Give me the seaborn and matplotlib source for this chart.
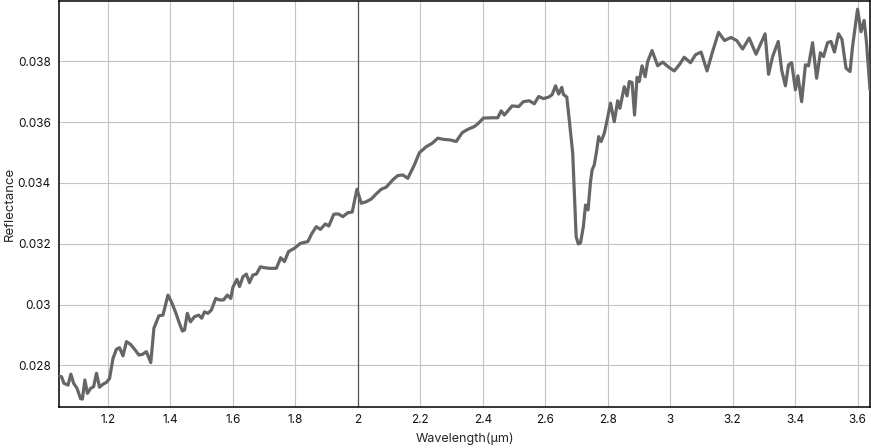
import numpy as np
import pandas as pd
import seaborn as sns
import matplotlib
matplotlib.use("Agg")
import matplotlib.pyplot as plt
from matplotlib.ticker import MultipleLocator, FuncFormatter

# spectrum
wavelength = [
    1.043, 1.051, 1.059, 1.072, 1.081, 1.090, 1.101, 1.112, 1.118, 1.126,
    1.134, 1.144, 1.154, 1.163, 1.173, 1.184, 1.195, 1.205, 1.216, 1.227,
    1.237, 1.248, 1.259, 1.272, 1.285, 1.299, 1.310, 1.323, 1.337, 1.347,
    1.363, 1.376, 1.392, 1.403, 1.417, 1.427, 1.438, 1.445, 1.454, 1.464,
    1.477, 1.491, 1.500, 1.509, 1.520, 1.531, 1.545, 1.557, 1.570, 1.582,
    1.593, 1.600, 1.613, 1.621, 1.632, 1.643, 1.653, 1.664, 1.675, 1.688,
    1.701, 1.717, 1.739, 1.753, 1.765, 1.778, 1.797, 1.816, 1.840, 1.853,
    1.867, 1.880, 1.896, 1.907, 1.923, 1.937, 1.952, 1.968, 1.982, 1.997,
    2.011, 2.027, 2.043, 2.059, 2.075, 2.091, 2.112, 2.128, 2.144, 2.160,
    2.181, 2.197, 2.219, 2.238, 2.256, 2.274, 2.296, 2.315, 2.334, 2.352,
    2.373, 2.386, 2.402, 2.427, 2.448, 2.459, 2.469, 2.494, 2.515, 2.530,
    2.549, 2.565, 2.579, 2.594, 2.611, 2.622, 2.633, 2.643, 2.653, 2.658,
    2.669, 2.677, 2.688, 2.699, 2.706, 2.713, 2.722, 2.729, 2.737, 2.745,
    2.750, 2.757, 2.765, 2.771, 2.779, 2.789, 2.798, 2.809, 2.821, 2.832,
    2.839, 2.853, 2.862, 2.869, 2.878, 2.886, 2.894, 2.901, 2.910, 2.920,
    2.928, 2.942, 2.960, 2.976, 2.997, 3.013, 3.029, 3.045, 3.065, 3.081,
    3.099, 3.118, 3.136, 3.155, 3.174, 3.195, 3.213, 3.232, 3.253, 3.275,
    3.304, 3.315, 3.328, 3.346, 3.357, 3.369, 3.379, 3.389, 3.401, 3.409,
    3.421, 3.433, 3.443, 3.456, 3.469, 3.481, 3.491, 3.504, 3.515, 3.526,
    3.539, 3.550, 3.563, 3.576, 3.584, 3.600, 3.611, 3.621, 3.628, 3.640,
]
reflectance = [
    0.02763, 0.02763, 0.02741, 0.02735, 0.02771, 0.02741, 0.02724, 0.02691, 0.02689, 0.02752,
    0.02708, 0.02724, 0.02730, 0.02774, 0.02728, 0.02738, 0.02744, 0.02757, 0.02823, 0.02853,
    0.02858, 0.02831, 0.02878, 0.02869, 0.02853, 0.02834, 0.02836, 0.02845, 0.02809, 0.02922,
    0.02963, 0.02965, 0.03031, 0.03009, 0.02973, 0.02943, 0.02913, 0.02916, 0.02971, 0.02943,
    0.02960, 0.02965, 0.02955, 0.02976, 0.02971, 0.02982, 0.03020, 0.03015, 0.03015, 0.03031,
    0.03020, 0.03057, 0.03083, 0.03059, 0.03091, 0.03100, 0.03072, 0.03097, 0.03100, 0.03124,
    0.03121, 0.03119, 0.03119, 0.03154, 0.03141, 0.03174, 0.03185, 0.03201, 0.03207, 0.03234,
    0.03256, 0.03247, 0.03265, 0.03258, 0.03297, 0.03298, 0.03289, 0.03302, 0.03304, 0.03379,
    0.03333, 0.03338, 0.03347, 0.03364, 0.03379, 0.03386, 0.03410, 0.03424, 0.03426, 0.03415,
    0.03459, 0.03499, 0.03519, 0.03530, 0.03547, 0.03543, 0.03541, 0.03536, 0.03565, 0.03576,
    0.03585, 0.03596, 0.03613, 0.03614, 0.03614, 0.03637, 0.03623, 0.03653, 0.03651, 0.03667,
    0.03670, 0.03660, 0.03684, 0.03677, 0.03682, 0.03690, 0.03719, 0.03692, 0.03714, 0.03691,
    0.03682, 0.03607, 0.03497, 0.03223, 0.03199, 0.03203, 0.03256, 0.03327, 0.03311, 0.03404,
    0.03442, 0.03459, 0.03508, 0.03552, 0.03536, 0.03563, 0.03605, 0.03662, 0.03601, 0.03670,
    0.03645, 0.03716, 0.03686, 0.03733, 0.03730, 0.03623, 0.03747, 0.03733, 0.03785, 0.03749,
    0.03799, 0.03835, 0.03785, 0.03797, 0.03779, 0.03768, 0.03788, 0.03813, 0.03795, 0.03821,
    0.03830, 0.03768, 0.03832, 0.03895, 0.03868, 0.03878, 0.03868, 0.03840, 0.03876, 0.03823,
    0.03890, 0.03757, 0.03815, 0.03865, 0.03771, 0.03719, 0.03788, 0.03795, 0.03706, 0.03752,
    0.03667, 0.03788, 0.03785, 0.03861, 0.03744, 0.03828, 0.03815, 0.03861, 0.03865, 0.03830,
    0.03890, 0.03872, 0.03777, 0.03766, 0.03848, 0.03971, 0.03897, 0.03934, 0.03870, 0.03706,
]

df = pd.DataFrame({"wavelength": wavelength, "reflectance": reflectance})

sns.set_theme(style="whitegrid")
plt.rcParams["font.family"] = ["Inter", "DejaVu Sans"]

fig = plt.figure(figsize=(8.71, 4.48), dpi=100)
ax = fig.add_axes([0.0677, 0.0915, 0.9312, 0.9063])

ax.axvline(2, color="#555555", linewidth=0.9, zorder=1)
sns.lineplot(data=df, x="wavelength", y="reflectance", ax=ax,
             color="#666666", linewidth=2.3, estimator=None, sort=False, zorder=3)

ax.set_xlim(1.043, 3.64)
ax.set_ylim(0.02663, 0.03998)
ax.xaxis.set_major_locator(MultipleLocator(0.2))
ax.yaxis.set_major_locator(MultipleLocator(0.002))
fmt = FuncFormatter(lambda v, _: f"{v:g}")
ax.xaxis.set_major_formatter(fmt)
ax.yaxis.set_major_formatter(fmt)

ax.set_facecolor("white")
ax.grid(True, color="#c4c4c4", linewidth=0.8)
for s in ax.spines.values():
    s.set_visible(True)
    s.set_color("black")
    s.set_linewidth(1.1)

ax.tick_params(axis="both", length=0, labelsize=8.5, colors="#111111")
ax.tick_params(axis="y", pad=6)
ax.tick_params(axis="x", pad=5)
ax.set_xlabel("Wavelength(µm)", fontsize=9, labelpad=5)
ax.set_ylabel("Reflectance", fontsize=9.5, labelpad=1)

fig.savefig("out.png", dpi=100)
